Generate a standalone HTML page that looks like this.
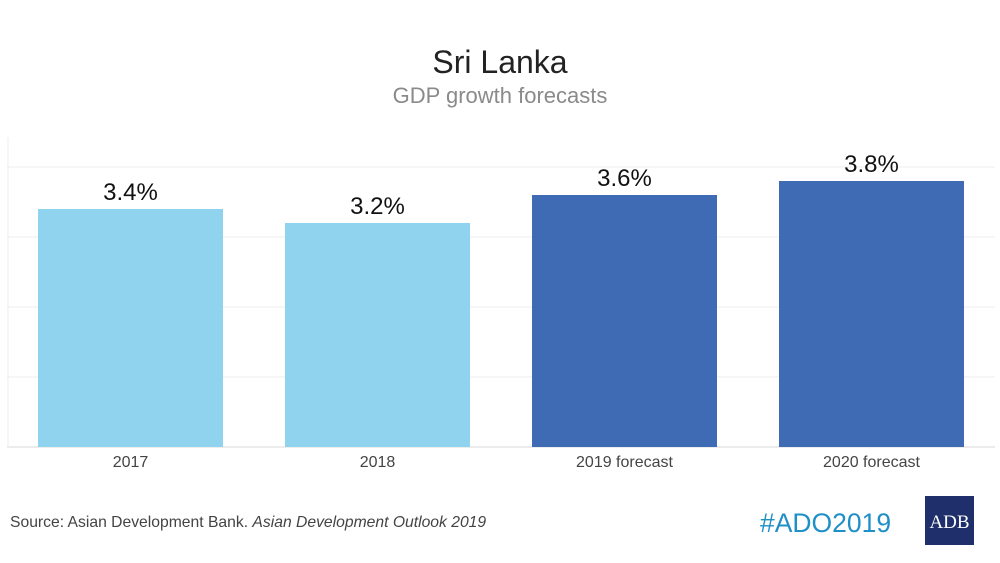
<!DOCTYPE html>
<html><head><meta charset="utf-8"><style>
body{margin:0;background:#fff;font-family:"Liberation Sans",Arial,sans-serif}
#wrap{position:relative;width:1000px;height:563px;overflow:hidden}
</style></head><body>
<div id="wrap">
<svg id="chart" width="1000" height="563">
<text x="500" y="73" text-anchor="middle" font-size="32" fill="#222">Sri Lanka</text>
<text x="500" y="103" text-anchor="middle" font-size="22" fill="#8a8a8a">GDP growth forecasts</text>
<g id="grid"></g><g id="bars"></g>
<text x="10" y="527" font-size="15.7" fill="#444">Source: Asian Development Bank. <tspan font-style="italic">Asian Development Outlook 2019</tspan></text>
<text x="760" y="532" font-size="26.5" fill="#1f8fc8">#ADO2019</text>
<rect x="925" y="496" width="49" height="49" fill="#1f2f6b"/>
<text x="949.5" y="528" text-anchor="middle" font-family="Liberation Serif,serif" font-size="19" fill="#fff">ADB</text>
</svg>
</div>
<script>
const categories=["2017","2018","2019 forecast","2020 forecast"];
const values=[3.4,3.2,3.6,3.8];
const colors=["#8fd3ef","#8fd3ef","#3e6bb4","#3e6bb4"];
const gridTicks=[0,1,2,3,4];
const NS="http://www.w3.org/2000/svg";
const x0=7,x1=995,base=447,perUnit=70;
const y=v=>base-v*perUnit;
const band=(x1-x0)/categories.length,bw=185;
const g=document.getElementById('grid'),b=document.getElementById('bars');
function mk(t,a,p){const e=document.createElementNS(NS,t);for(const k in a)e.setAttribute(k,a[k]);p.appendChild(e);return e;}
gridTicks.forEach(t=>{const l=mk('line',{x1:x0,x2:x1,y1:y(t),y2:y(t),stroke:t===0?'#d9d9d9':'#ececec','stroke-width':1},g);

});
const ax=mk('line',{x1:x0+1,x2:x0+1,y1:y(4)-30,y2:base,stroke:'#ececec'},g);


categories.forEach((c,i)=>{const cx=x0+band*(i+0.5);
const r=mk('rect',{x:cx-bw/2,y:y(values[i]),width:bw,height:base-y(values[i]),fill:colors[i]},b);


const v=mk('text',{x:cx,y:y(values[i])-9,'text-anchor':'middle','font-size':24,fill:'#111'},b);v.textContent=values[i].toFixed(1)+'%';


const l=mk('text',{x:cx,y:467,'text-anchor':'middle','font-size':16,fill:'#444'},b);l.textContent=c;

});
</script>
</body></html>
